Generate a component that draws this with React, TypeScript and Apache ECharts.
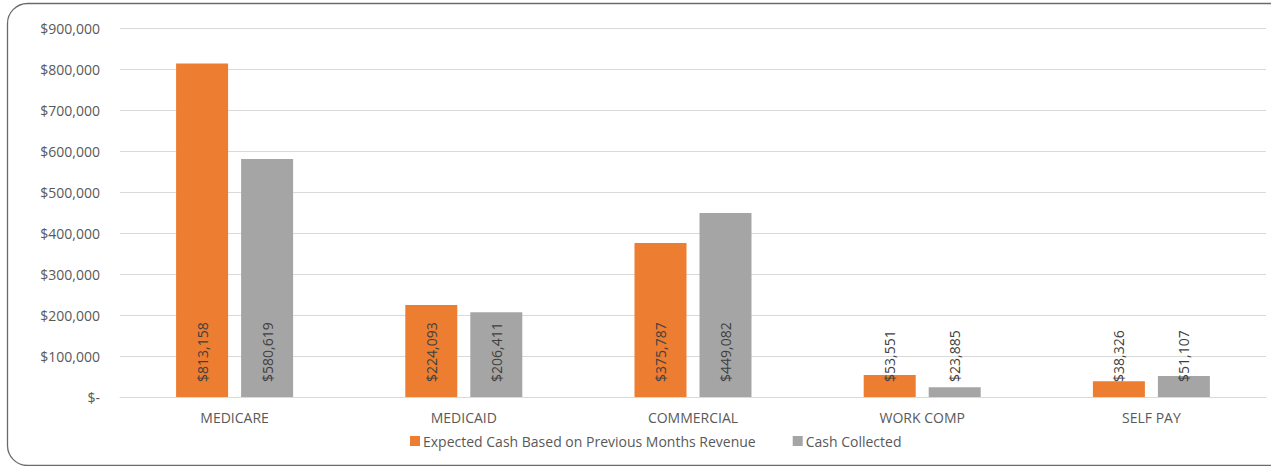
import React, { useEffect, useRef } from "react";
import * as echarts from "echarts";

const categories = ["MEDICARE", "MEDICAID", "COMMERCIAL", "WORK COMP", "SELF PAY"];
const expectedCash = [813158, 224093, 375787, 53551, 38326];
const cashCollected = [580619, 206411, 449082, 23885, 51107];
const seriesNames = ["Expected Cash Based on Previous Months Revenue", "Cash Collected"];

const FONT = "Open Sans";
const TEXT = "#595959";

const money = (v: number) => (v === 0 ? "$-" : "$" + v.toLocaleString("en-US"));

export default function App() {
  const ref = useRef<HTMLDivElement>(null);
  useEffect(() => {
    if (!ref.current) return;
    const chart = echarts.init(ref.current, null, { renderer: "svg" });
    const label = {
      show: true,
      position: "insideBottom",
      rotate: 90,
      align: "left",
      verticalAlign: "middle",
      distance: 15,
      color: "#404040",
      fontFamily: FONT,
      fontSize: 14,
      formatter: (p: any) => money(p.value),
    };
    chart.setOption({
      animation: false,
      backgroundColor: "#ffffff",
      textStyle: { fontFamily: FONT },
      graphic: [
        {
          type: "rect",
          shape: { x: 7.5, y: 3.5, width: 1300, height: 462, r: 20 },
          style: { fill: "none", stroke: "#6b6b6b", lineWidth: 1.3 },
          silent: true,
          z: -1,
        },
      ],
      grid: { left: 120, right: 5, top: 28, bottom: 69 },
      legend: {
        top: 429,
        left: 405,
        itemWidth: 10,
        itemHeight: 10,
        itemGap: 37,
        icon: "rect",
        textStyle: { color: TEXT, fontFamily: FONT, fontSize: 14, padding: [0, 0, 0, -2] },
        data: seriesNames,
      },
      xAxis: {
        type: "category",
        data: categories,
        axisLine: { lineStyle: { color: "#d9d9d9", width: 1 } },
        axisTick: { show: false },
        axisLabel: { color: TEXT, fontFamily: FONT, fontSize: 14, margin: 13 },
      },
      yAxis: {
        type: "value",
        min: 0,
        max: 900000,
        interval: 100000,
        axisLine: { show: false },
        axisTick: { show: false },
        splitLine: { lineStyle: { color: "#d9d9d9", width: 1 } },
        axisLabel: {
          color: TEXT,
          fontFamily: FONT,
          fontSize: 14,
          margin: 20,
          formatter: (v: number) => money(v),
        },
      },
      series: [
        {
          name: seriesNames[0],
          type: "bar",
          data: expectedCash,
          barWidth: 52,
          barGap: "25%",
          itemStyle: { color: "#ED7D31" },
          label,
        },
        {
          name: seriesNames[1],
          type: "bar",
          data: cashCollected,
          barWidth: 52,
          itemStyle: { color: "#A5A5A5" },
          label,
        },
      ],
    });
    return () => chart.dispose();
  }, []);
  return (
    <div
      ref={ref}
      style={{ position: "fixed", left: 0, top: 0, width: 1271, height: 466 }}
    />
  );
}
